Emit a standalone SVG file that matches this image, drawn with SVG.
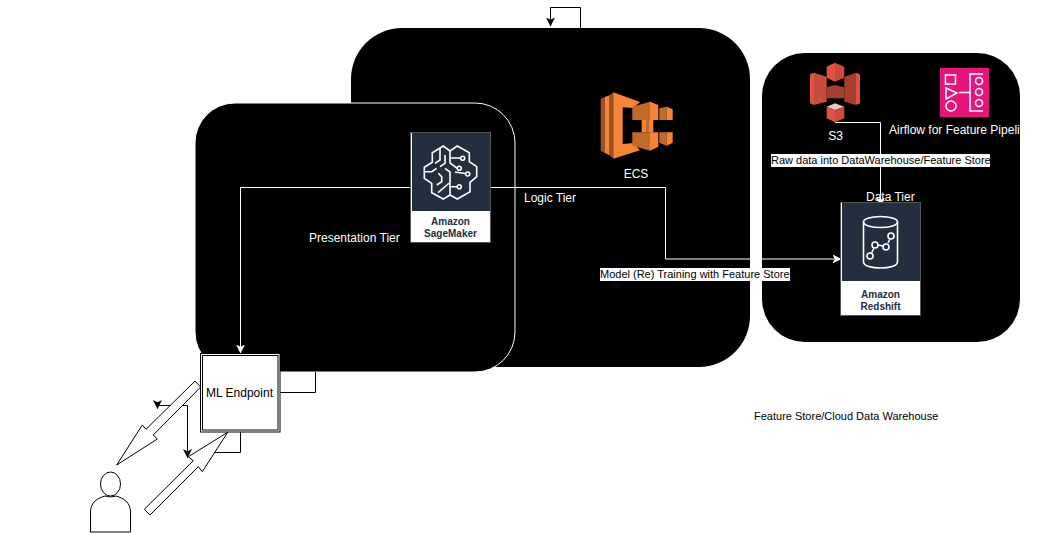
<svg xmlns="http://www.w3.org/2000/svg" width="1039" height="533" viewBox="0 0 1039 533">
<style>
text{font-family:"Liberation Sans",Arial,sans-serif;font-size:12px}
.w{fill:#fff}.k{fill:#000}.m{text-anchor:middle}
.cw{fill:none;stroke:#fff;stroke-width:1}
.ck{fill:none;stroke:#000;stroke-width:1}
.ic{fill:none;stroke:#fff;stroke-width:1.6}
.cap{fill:#232f3e;font-weight:bold;font-size:10px;text-anchor:middle}
.arrow{fill:#fff;stroke:#000;stroke-width:1;stroke-linejoin:miter}
.ol{fill:#f58534}.od{fill:#9d5025}.om{fill:#c26a2a}
.sl{fill:#e05243}.sd{fill:#a63f30}.sm{fill:#c94b3c}
</style>
<defs>
<marker id="aw" markerWidth="10" markerHeight="10" refX="8.500" refY="4.500" orient="auto" markerUnits="userSpaceOnUse"><path d="M0,0L9,4.500L0,9L2.200,4.500Z" fill="#fff"/></marker>
<marker id="ak" markerWidth="10" markerHeight="10" refX="8.500" refY="4.500" orient="auto" markerUnits="userSpaceOnUse"><path d="M0,0L9,4.500L0,9L2.200,4.500Z" fill="#000"/></marker>
<clipPath id="dataClip"><rect x="762" y="53" width="258" height="289"/></clipPath>
</defs>
<g id="logic-tier"><rect x="351" y="28" width="399" height="339" rx="51" fill="#000"/></g>
<g id="data-tier"><rect x="762" y="53" width="258" height="289" rx="43" fill="#000"/></g>
<g id="presentation-tier"><rect x="195" y="103" width="320" height="269" rx="40" fill="#000" stroke="#fff" stroke-width="1"/></g>
<g id="connectors">
<path class="ck" d="M580.500,28V7.500H550.500V26" marker-end="url(#ak)"/>
<path class="cw" d="M411,187.500H240.500V353" marker-end="url(#aw)"/>
<path class="cw" d="M490,187.500H665.500V259H841" marker-end="url(#aw)"/>
<path class="cw" d="M835,122.500H880.500V206" marker-end="url(#aw)"/>
<path class="ck" d="M280,392.500H315.500V372"/>
<path class="ck" d="M187.500,405.500H157.500V408.500" marker-end="url(#ak)"/>
<path class="ck" d="M187.500,405.500V457.500" marker-end="url(#ak)"/>
<path class="ck" d="M240.500,432V452.500H200"/>
<path class="arrow" d="M195,381L200.700,387L153.300,435L157.300,439L116.700,465L142.300,425L146,429.300Z"/>
<path class="arrow" d="M227.700,432.300L188.300,456.700L193.300,460.700L144.300,509.300L150,515L198.300,466.700L202.300,471.700Z"/>
</g>
<g id="sagemaker">
<rect x="410.500" y="132.500" width="80" height="110" fill="#fff" stroke="#555" stroke-width="1"/>
<rect x="412" y="133" width="78" height="78" fill="#232f3e"/>
<path class="ic" d="M450,151L443.300,146L432.300,152.700V162.300L424.300,167.300V178.300L431.700,183.300V192.700L443.300,199L450,195L457.300,199L470,191.700V182.300L476.700,176.700V166.700L469.300,161.700V152.700L457.300,146Z"/>
<path class="ic" d="M450,151V163L457.300,168.300M450,158H461M450,195V172L445,168.300M450,186.700H457.500M440,148V160L435,163.300M425,171.700H431.700L436.700,168.300M445,155V163.300L440,166.700M438.300,173.300L441.700,176.700V181.700L436.700,185M438,192.700L449.300,183M455,172L465.500,173.500"/>
<circle class="ic" cx="462.700" cy="158.300" r="2"/><circle class="ic" cx="459.300" cy="168.300" r="2"/><circle class="ic" cx="467.700" cy="174" r="2"/><circle class="ic" cx="459.300" cy="186.700" r="2"/>
<text class="cap" x="450.500" y="225">Amazon</text><text class="cap" x="450.500" y="237">SageMaker</text>
</g>
<g id="redshift">
<rect x="840.500" y="202.500" width="80" height="113" fill="#fff" stroke="#555" stroke-width="1"/>
<rect x="842" y="203" width="78" height="78" fill="#232f3e"/>
<ellipse class="ic" cx="880.500" cy="222" rx="17" ry="5.500"/>
<path class="ic" d="M863.500,222V262C863.500,270 897.500,270 897.500,262V222M871,254L874,248M878,245L883,246M888,243L890,239"/>
<circle class="ic" cx="870" cy="256" r="3"/><circle class="ic" cx="875" cy="245" r="3"/><circle class="ic" cx="886" cy="247" r="3"/><circle class="ic" cx="891" cy="236" r="3"/>
<text class="cap" x="880.500" y="298">Amazon</text><text class="cap" x="880.500" y="310">Redshift</text>
</g>
<g id="ecs">
<path class="od" d="M600.700,98.700L605,97V153L600.700,150.700Z"/>
<path class="ol" d="M605,97L609,95.500V155L605,153Z"/>
<path class="od" d="M609,95.500L613.300,92.500V158.700L609,155Z"/>
<path class="ol" d="M613.300,92.300L640,102L633.300,108L622.700,107.300V144L633.300,143L640,150.300L613.300,158.700Z"/>
<path class="om" d="M632.300,106.700L650,101.700V120H632.300Z"/>
<path class="ol" d="M650,101.700L658.300,105V120H650Z"/>
<path class="ol" d="M641.700,120H653.300V132.300H641.700Z"/>
<path class="om" d="M646,120H649V132.300H646Z"/>
<path class="om" d="M632.300,132.300H650V150.700L632.300,145.700Z"/>
<path class="ol" d="M650,132.300H658.300V146.700L650,150.700Z"/>
<path class="om" d="M659.300,108.300L666.700,106.700V120H659.300Z"/>
<path class="ol" d="M666.700,106.700L672.700,109.300V120H666.700Z"/>
<path class="om" d="M659.300,132.300H666.700V145.700L659.300,142.700Z"/>
<path class="ol" d="M666.700,132.300H672.700V142.700L666.700,145.700Z"/>
<text class="w m" x="636" y="178">ECS</text>
</g>
<g id="s3">
<path class="sl" d="M810,74.300L814,72.700V105L810,103.300Z"/>
<path class="sm" d="M814,72.700L826.700,76.700V101.700L814,105Z"/>
<path class="sd" d="M844.300,76.700L856,72.700V105L844.300,101.700Z"/>
<path class="sl" d="M856,72.700L860,74.300V103.300L856,105Z"/>
<path class="sl" d="M835,62.700L826.700,66.700V77.700L835,81.700Z"/><path class="sm" d="M835,62.700L844.300,66.700V77.700L835,81.700Z"/>
<path class="sd" d="M835,85L826.700,87.300V98.300H844.300V87.300Z"/>
<path d="M835,103.300L826.700,106.700L835,110L844.300,106.700Z" fill="#f2c5bf"/>
<path class="sl" d="M826.700,106.700L835,110V122.300L826.700,118.300Z"/><path class="sm" d="M835,110L844.300,106.700V118.300L835,122.300Z"/>
<text class="w m" x="835.500" y="140">S3</text>
</g>
<g id="airflow">
<rect x="940" y="68" width="49" height="49" fill="#e7157b"/>
<g fill="none" stroke="#fff" stroke-width="1.500">
<rect x="945.500" y="75" width="10" height="9"/>
<path d="M946,88L957,93L946,99Z"/>
<circle cx="951" cy="106" r="5"/>
<path d="M959,92.500H970M983,74H970V111H983"/>
<circle cx="979" cy="81" r="3.500"/><circle cx="979" cy="92" r="3.500"/><circle cx="979" cy="103" r="3.500"/>
</g>
<text class="w" x="889" y="134" clip-path="url(#dataClip)">Airflow for Feature Pipelines</text>
</g>
<g id="ml-endpoint">
<rect x="200.500" y="353.500" width="79.500" height="78.500" fill="#fff" stroke="#000" stroke-width="1"/>
<rect x="202.500" y="355.500" width="75.500" height="74.500" fill="#fff" stroke="#000" stroke-width="1"/>
<text class="k m" x="239.500" y="397">ML Endpoint</text>
</g>
<g id="user">
<ellipse cx="110.500" cy="484" rx="10" ry="12" fill="#fff" stroke="#000"/>
<path d="M90.500,532V512C90.500,502 98,498 105,496Q110.500,498 116,496C123,498 130.500,502 130.500,512V532Z" fill="#fff" stroke="#000"/>
</g>
<g id="labels">
<text class="w" x="309" y="242">Presentation Tier</text>
<text class="w" x="524" y="202">Logic Tier</text>
<text class="w" x="866" y="201">Data Tier</text>
<rect x="771" y="154" width="219" height="13" fill="#fff"/>
<text class="k" x="771" y="164" style="font-size:11px">Raw data into DataWarehouse/Feature Store</text>
<rect x="600" y="268" width="190" height="13" fill="#fff"/>
<text class="k" x="600" y="278" style="font-size:11px">Model (Re) Training with Feature Store</text>
<text class="k" x="754" y="420" style="font-size:11px">Feature Store/Cloud Data Warehouse</text>
</g>
</svg>
